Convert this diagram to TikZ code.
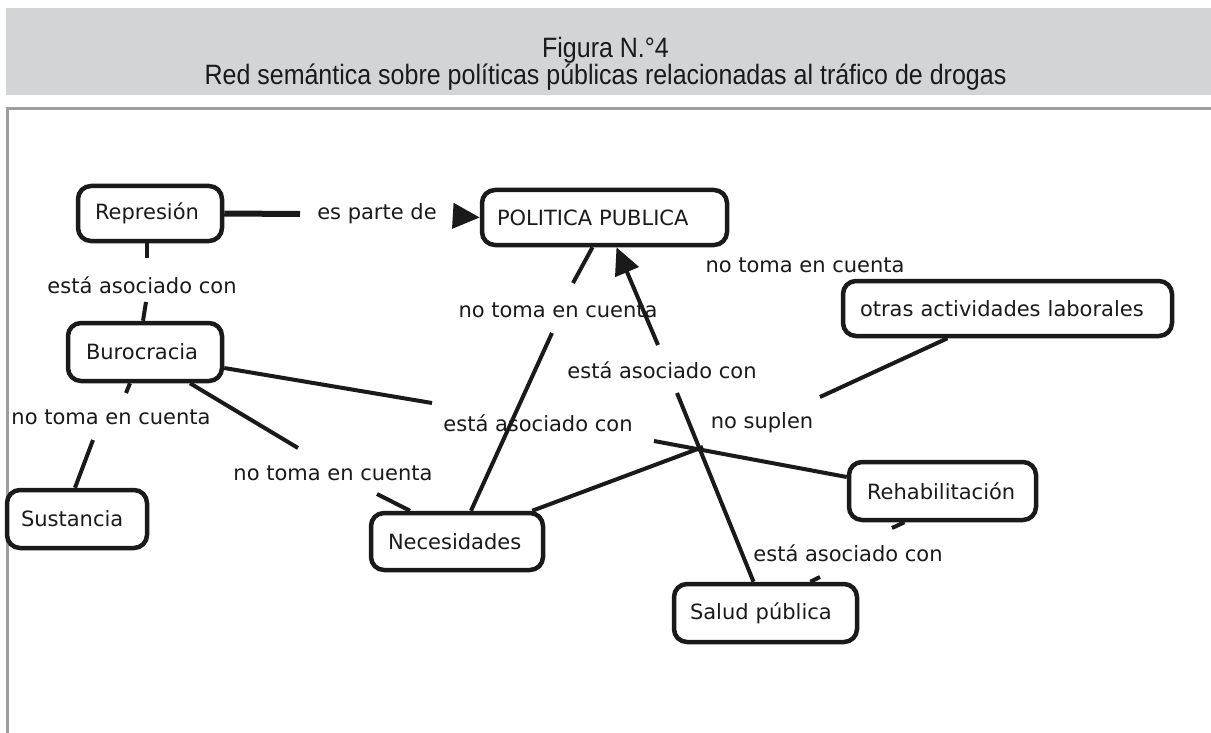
\documentclass[tikz,border=0pt]{standalone}
\usepackage{fontspec}
\usepackage{graphicx}
\setmainfont{Liberation Sans}
\newfontfamily\diagfont{DejaVu Sans}
\usetikzlibrary{arrows.meta,calc}
\definecolor{headgray}{HTML}{D3D4D6}
\definecolor{framegray}{HTML}{9E9E9E}
\definecolor{ink}{HTML}{1A1A1A}
\newcommand{\tallhead}[1]{\scalebox{1}[1.12]{#1}}
\begin{document}
\begin{tikzpicture}[x=1pt,y=-1pt,
  headtxt/.style={anchor=base, inner sep=0pt, text=ink, font=\fontsize{25}{27}\selectfont},
  box/.style={draw=ink, line width=4.5pt, rounded corners=13pt, align=left, inner ysep=0pt,
    text=ink, font=\diagfont\fontsize{21}{24}\selectfont},
  lbl/.style={inner sep=0pt, text=ink, font=\diagfont\fontsize{21}{24}\selectfont},
  conn/.style={draw=ink, line width=4pt},
  bold/.style={draw=ink, line width=6pt},
  bigtip/.style={-{Triangle[length=27pt,width=25pt]}}
]
\useasboundingbox (0,0) rectangle (1211,733);
\fill[white] (0,0) rectangle (1211,733);
% header
\fill[headgray] (6,8) rectangle (1211,95);
\node[headtxt] (t1) at (605.5,57.5) {\tallhead{Figura N.°4}};
\node[headtxt] (t2) at (605.5,85) {\tallhead{Red semántica sobre políticas públicas relacionadas al tráfico de drogas}};
% frame
\draw[framegray, line width=3pt] (1211,108.5) -- (7.5,108.5) -- (7.5,733);

% concept boxes
\node[box, inner xsep=17pt, text width=110pt, minimum height=55pt] (rep) at (150,213.5) {Represión};
\node[box, inner xsep=15pt, text width=215pt, minimum height=55pt] (pp) at (604.5,217.5) {POLITICA PUBLICA};
\node[box, inner xsep=17pt, text width=295pt, minimum height=55pt] (otras) at (1007.5,308.5) {otras actividades laborales};
\node[box, inner xsep=18pt, text width=118pt, minimum height=58pt] (bur) at (145,352) {Burocracia};
\node[box, inner xsep=14pt, text width=112pt, minimum height=58pt] (sus) at (77,519) {Sustancia};
\node[box, inner xsep=17pt, text width=138pt, minimum height=57pt] (nec) at (457,541.5) {Necesidades};
\node[box, inner xsep=18pt, text width=151pt, minimum height=58pt] (reh) at (942.5,491) {Rehabilitación};
\node[box, inner xsep=16pt, text width=151pt, minimum height=58pt] (sal) at (765.5,613) {Salud pública};

% linking phrases
\node[lbl] (lpart) at (377,214) {es parte de};
\node[lbl] (lasoc1) at (142,285) {está asociado con};
\node[lbl] (lntcR) at (805,265) {no toma en cuenta};
\node[lbl] (lntcM) at (558,310) {no toma en cuenta};
\node[lbl] (lasoc2) at (662,370) {está asociado con};
\node[lbl] (lasoc3) at (538,423) {está asociado con};
\node[lbl] (lsup) at (762,423) {no suplen};
\node[lbl] (lntcL) at (111,417) {no toma en cuenta};
\node[lbl] (lntcML) at (333,473) {no toma en cuenta};
\node[lbl] (lasoc4) at (848,553) {está asociado con};

% free ends of connector segments
\coordinate (a1) at (300,214);
\coordinate (a2) at (455,216);
\coordinate (b1) at (147,258);
\coordinate (b2) at (146,302);
\coordinate (c1) at (126,393);
\coordinate (c2) at (93,440);
\coordinate (d1) at (298,448);
\coordinate (d2) at (377,494);
\coordinate (e1) at (432,403);
\coordinate (e2) at (654,441);
\coordinate (f1) at (703,447);
\coordinate (f2) at (820,397);
\coordinate (g1) at (677,393);
\coordinate (g2) at (658,345);
\coordinate (h1) at (552,333);
\coordinate (h2) at (573,283);
\coordinate (k1) at (892,528);
\coordinate (k2) at (820,577);

% connectors
\draw[bold] (rep.east) -- (a1);
\draw[conn, bigtip] (a2) -- (pp.west);
\draw[conn] ($(rep.south)+(-3,0)$) -- (b1);
\draw[conn] (b2) -- ($(bur.north)+(-2,0)$);
\draw[conn] ($(bur.south)+(-15,0)$) -- (c1);
\draw[conn] (c2) -- ($(sus.north)+(-2,0)$);
\draw[conn] ($(bur.south)+(45,0)$) -- (d1);
\draw[conn] (d2) -- ($(nec.north)+(-47,0)$);
\draw[conn] ($(bur.east)+(0,16)$) -- (e1);
\draw[conn] (e2) -- ($(reh.west)+(0,-14)$);
\draw[conn] ($(nec.north east)+(-13,0)$) -- (f1);
\draw[conn] (f2) -- ($(otras.south)+(-60,0)$);
\draw[conn] ($(sal.north)+(-12,0)$) -- (g1);
\draw[conn, bigtip] (g2) -- ($(pp.south)+(12,0)$);
\draw[conn] ($(nec.north)+(14,0)$) -- (h1);
\draw[conn] (h2) -- ($(pp.south)+(-12,0)$);
\draw[conn] ($(reh.south)+(-38,0)$) -- (k1);
\draw[conn] (k2) -- ($(sal.north east)+(-49,0)$);
\end{tikzpicture}
\end{document}
